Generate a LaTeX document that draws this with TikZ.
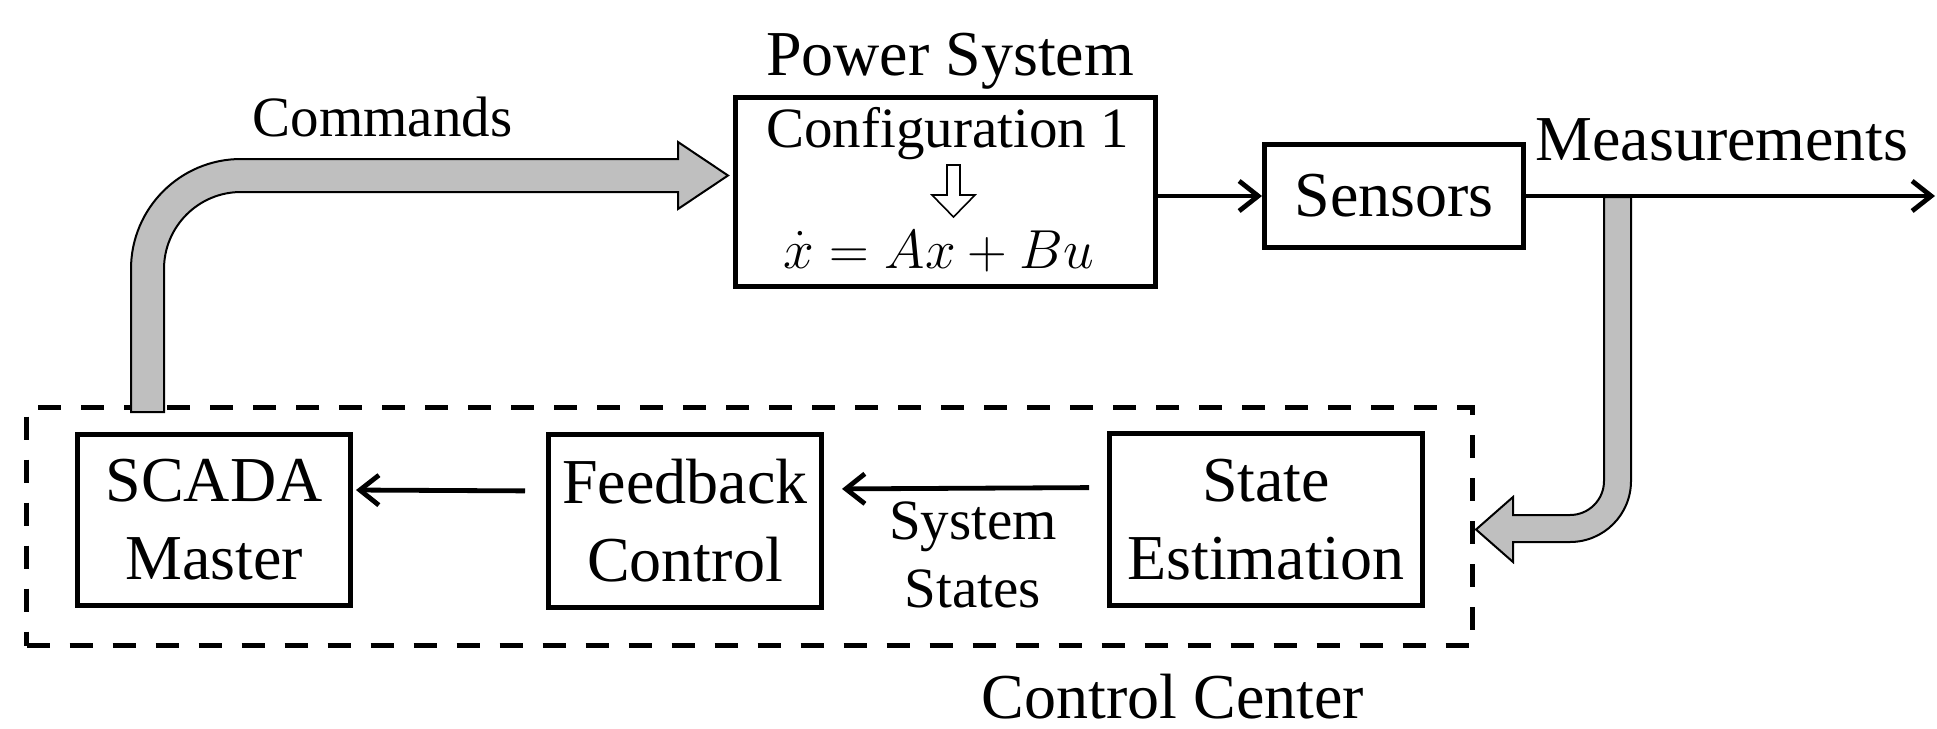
\RequirePackage{fix-cm}
\documentclass[tikz,border=0pt]{standalone}
\usepackage{fontspec}
\setmainfont{Liberation Serif}
\usetikzlibrary{arrows.meta,calc}
\newcommand\bigf{\fontsize{32}{39}\selectfont}
\newcommand\smallf{\fontsize{28.5}{34}\selectfont}
\newcommand\eqf{\fontsize{27.5}{33}\selectfont}
\begin{document}
\begin{tikzpicture}[x=0.5pt,y=-0.5pt,
  blk/.style={draw,line width=2.4pt,inner sep=0pt,font=\bigf,align=center},
  lbl/.style={inner sep=0pt,anchor=base},
  arr/.style={line width=2.4pt,-{Straight Barb[length=9.5pt,width=15pt]}},
  fat/.style={draw,line width=1pt,fill=black!25,line join=miter},
  hollow/.style={draw,line width=0.8pt,fill=white,line join=miter}]
\useasboundingbox (0,0) rectangle (1937,728);

% control center dashed frame
\node[draw,dash pattern=on 11.5pt off 10pt,line width=2.5pt,minimum width=723pt,minimum height=119pt,inner sep=0pt] (cc) at (749.5,526.5) {};

% boxes
\node[blk,minimum width=210.1pt,minimum height=94.6pt] (ps) at (945.5,192) {};
\node[blk,minimum width=129.6pt,minimum height=51.6pt] (sens) at (1394,196) {Sensors};
\node[blk,minimum width=136.6pt,minimum height=85.6pt] (scada) at (214,520) {SCADA\\Master};
\node[blk,minimum width=136.6pt,minimum height=86.6pt] (fb) at (685,521) {Feedback\\Control};
\node[blk,minimum width=156.6pt,minimum height=86.1pt] (se) at (1266,519.5) {State\\Estimation};

% labels
\node[lbl,font=\bigf] (pslbl) at (950,75) {Power System};
\node[lbl,font=\smallf] (conf) at (947.5,147) {Configuration 1};
\node[lbl,font=\eqf] (eq) at (939,268) {$\dot{x} = Ax + Bu$};
\node[lbl,font=\smallf] (cmd) at (382.5,136) {Commands};
\node[lbl,font=\bigf] (meas) at (1722,160) {Measurements};
\node[inner sep=0pt,font=\smallf,align=center] (sysst) at (973,555) {System\\States};
\node[lbl,font=\bigf] (cclbl) at (1173,718) {Control Center};

% hollow arrow inside power system box
\draw[hollow] (947,165) -- (960,165) -- (960,195) -- (975,195) -- (953.5,217) -- (932,195) -- (947,195) -- cycle;

% commands fat arrow
\draw[fat] (131,412) -- (131,269) .. controls (131,208.25) and (180.25,159) .. (241,159)
  -- (678,159) -- (678,142) -- (728,175.5) -- (678,209) -- (678,192) -- (241,192)
  .. controls (198.5,192) and (164,226.5) .. (164,269) -- (164,412) -- cycle;

% measurement fat arrow
\draw[fat] (1604,197) -- (1604,481) .. controls (1604,499.8) and (1588.8,515) .. (1570,515)
  -- (1513,515) -- (1513,497) -- (1476,529.5) -- (1513,562) -- (1513,542) -- (1570,542)
  .. controls (1603.7,542) and (1631,514.7) .. (1631,481) -- (1631,197) -- cycle;

% connectors
\coordinate (measend) at (1935,196);
\draw[arr] (ps.east |- sens.west) -- (sens.west);
\draw[arr] (sens.east) -- (measend);
\draw[arr,shorten <=9pt,shorten >=9pt] ([yshift=16pt]se.west) -- ([yshift=16pt]fb.east);
\draw[arr,shorten <=10.5pt,shorten >=1.5pt] ([yshift=15pt]fb.west) -- ([yshift=15pt]scada.east);
\end{tikzpicture}
\end{document}
